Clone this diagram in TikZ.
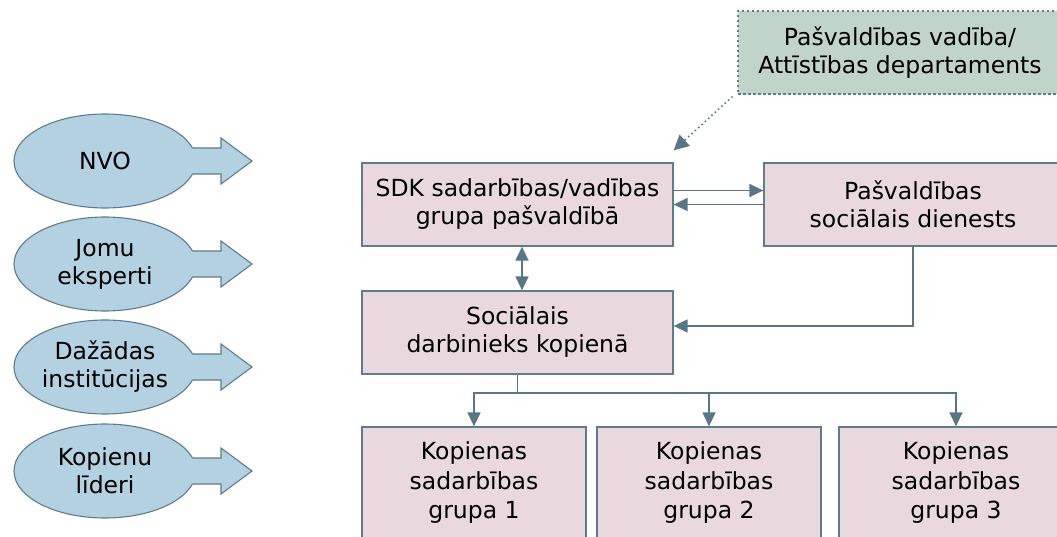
\documentclass[tikz,border=0pt]{standalone}
\usepackage{fontspec}
\setmainfont{DejaVu Sans}
\usetikzlibrary{shapes.geometric,arrows.meta,calc}
\definecolor{boxfill}{HTML}{E9D9DE}
\definecolor{edge}{HTML}{5F7C8C}
\definecolor{ovalfill}{HTML}{B3D1E1}
\definecolor{leadfill}{HTML}{C1D4C9}
\definecolor{link}{HTML}{587686}
\begin{document}
\begin{tikzpicture}[x=1pt,y=-1pt,
  box/.style={draw=edge,fill=boxfill,line width=1.3pt,align=center,inner sep=0pt,
    font=\fontsize{23.5}{28}\selectfont},
  groupbox/.style={box,font=\fontsize{23.5}{29.5}\selectfont},
  leadbox/.style={box,fill=leadfill,dash pattern=on 2.5pt off 2.5pt,line width=1.1pt},
  oval/.style={ellipse,draw=edge,fill=ovalfill,line width=1.1pt,align=center,inner sep=0pt,
    minimum width=182pt,minimum height=94pt,font=\fontsize{23.5}{28}\selectfont},
  tip/.style={Triangle[length=14pt,width=13pt]},
  arr/.style={draw=link,line width=1.4pt,-{Triangle[length=14pt,width=13pt]}},
  biarr/.style={draw=link,line width=1.4pt,{Triangle[length=14pt,width=13pt]}-{Triangle[length=14pt,width=13pt]}},
  plain/.style={draw=link,line width=1.4pt},
  dotarr/.style={draw=link,line width=1.6pt,dash pattern=on 1.5pt off 3pt,
    -{Triangle[length=15pt,width=15pt]}}
]
\useasboundingbox (0,0) rectangle (1057,537);
\clip (0,0) rectangle (1057,537);

% participants on the left: ovals with block arrows
\foreach \n/\y/\t in {nvo/161/NVO,
                      jomu/264/{Jomu\\eksperti},
                      inst/367/{Dažādas\\institūcijas},
                      lid/471/{Kopienu\\līderi}}{
  \node[oval] (\n) at (105,\y) {\t};
  \fill[ovalfill] ([shift={(80,-13)}]\n.center) -- ++(36,0) -- ++(0,-10)
    -- ++(31,23) -- ++(-31,23) -- ++(0,-10) -- ++(-36,0) -- cycle;
  \draw[edge,line width=1.1pt,line join=miter] ([shift={(87.4,-13)}]\n.center)
    -- ([shift={(116,-13)}]\n.center) -- ++(0,-10) -- ++(31,23) -- ++(-31,23)
    -- ++(0,-10) -- ([shift={(87.4,13)}]\n.center);
}

% management structure
\node[leadbox,minimum width=324pt,minimum height=83pt] (lead) at (900,52.5)
  {Pašvaldības vadība/\\Attīstības departaments};
\node[box,minimum width=311pt,minimum height=83pt] (sdk) at (517.5,204.5)
  {SDK sadarbības/vadības\\grupa pašvaldībā};
\node[box,minimum width=298pt,minimum height=83pt] (psd) at (913,204.5)
  {Pašvaldības\\sociālais dienests};
\node[box,minimum width=311pt,minimum height=83pt] (soc) at (517.5,332.5)
  {Sociālais\\darbinieks kopienā};

% community groups
\node[groupbox,minimum width=224pt,minimum height=112pt] (k1) at (474,483)
  {Kopienas\\sadarbības\\grupa 1};
\node[groupbox,minimum width=224pt,minimum height=112pt] (k2) at (709,483)
  {Kopienas\\sadarbības\\grupa 2};
\node[groupbox,minimum width=234pt,minimum height=112pt] (k3) at (956,483)
  {Kopienas\\sadarbības\\grupa 3};

% connectors
\draw[dotarr] ([shift={(-5,2)}]lead.south west) -- ([shift={(0,-12)}]sdk.north east);
\draw[arr] ([yshift=14pt]sdk.east) -- ([yshift=14pt]psd.west);
\draw[arr] (psd.west) -- (sdk.east);
\draw[biarr] ([xshift=4.5pt]sdk.south) -- ([xshift=4.5pt]soc.north);
\draw[arr] (psd.south) |- ([yshift=6.5pt]soc.east);
\coordinate (split) at (517.5,393);
\draw[plain] (soc.south) -- (split);
\draw[arr] (split) -| (k1.north);
\draw[arr] (split) -| (k2.north);
\draw[arr] (split) -| (k3.north);
\end{tikzpicture}
\end{document}
